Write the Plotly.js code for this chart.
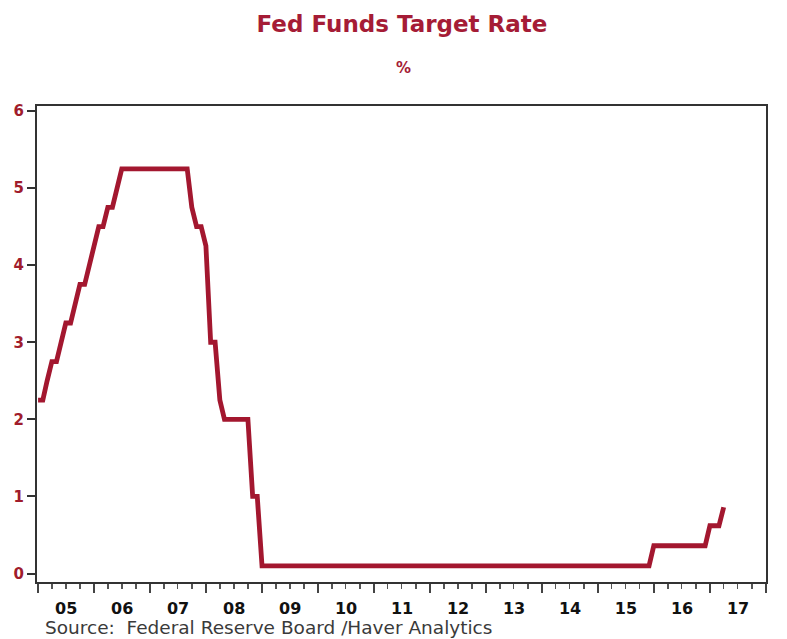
<!DOCTYPE html>
<html>
<head>
<meta charset="utf-8">
<script src="https://cdn.plot.ly/plotly-3.0.1.min.js"></script>
<style>html,body{margin:0;padding:0;background:#fff;}#chart{width:787px;height:639px;}</style>
</head>
<body>
<div id="chart"></div>
<script>
// Month-end dates where the target rate changes (flat stretches need only endpoints)
const dates = [
  '2004-12-31','2005-01-31','2005-02-28','2005-03-31','2005-04-30','2005-05-31',
  '2005-06-30','2005-07-31','2005-08-31','2005-09-30','2005-10-31','2005-11-30',
  '2005-12-31','2006-01-31','2006-02-28','2006-03-31','2006-04-30','2006-05-31',
  '2006-06-30','2007-08-31','2007-09-30','2007-10-31','2007-11-30','2007-12-31',
  '2008-01-31','2008-02-29','2008-03-31','2008-04-30','2008-09-30','2008-10-31',
  '2008-11-30','2008-12-31','2015-11-30','2015-12-31','2016-11-30','2016-12-31',
  '2017-01-31','2017-02-28','2017-03-31'
];
const rates = [
  2.25,2.25,2.50,2.75,2.75,3.00,
  3.25,3.25,3.50,3.75,3.75,4.00,
  4.25,4.50,4.50,4.75,4.75,5.00,
  5.25,5.25,4.75,4.50,4.50,4.25,
  3.00,3.00,2.25,2.00,2.00,1.00,
  1.00,0.10,0.10,0.36,0.36,0.62,
  0.62,0.62,0.86
];
const chartTitle = 'Fed Funds Target Rate';
const unitLabel = '%';
const sourceText = 'Source:  Federal Reserve Board /Haver Analytics';

const red = '#A3172F';
const labelRed = '#A01C2C';
const axisCol = '#333333';
const font = 'DejaVu Sans, Liberation Sans, Arial, sans-serif';

const yRange = [-0.11, 6.065];
const yTickFont = {family: font, size: 15, color: labelRed, weight: 'bold'};

const data = [{
  x: dates, y: rates, type: 'scatter', mode: 'lines',
  line: {color: red, width: 4.8, shape: 'linear'},
  hoverinfo: 'skip'
}];

const layout = {
  width: 787, height: 639,
  margin: {l: 37, r: 21, t: 106, b: 57},
  paper_bgcolor: '#ffffff', plot_bgcolor: '#ffffff',
  showlegend: false,
  title: {
    text: chartTitle, x: 402/787, xanchor: 'center', xref: 'container',
    y: 1 - 24/639, yanchor: 'middle', yref: 'container',
    font: {family: font, size: 23, color: '#A51C36', weight: 'bold'}
  },
  xaxis: {
    type: 'date', range: ['2004-12-24', '2018-01-01'],
    tick0: '2005-01-01', dtick: 'M12', tickformat: '%y', ticklabelmode: 'period',
    ticks: 'outside', ticklen: 9, tickwidth: 1.5, tickcolor: '#444',
    minor: {dtick: 'M3', ticks: 'outside', ticklen: 5, tickwidth: 1.2, tickcolor: '#555', showgrid: false},
    showline: true, linecolor: axisCol, linewidth: 2, mirror: true,
    showgrid: false, zeroline: false,
    ticklabelstandoff: 2,
    tickfont: {family: font, size: 16, color: '#111111', weight: 'bold'}
  },
  yaxis: {
    range: yRange, tick0: 0, dtick: 1,
    ticks: 'outside', ticklen: 8, tickwidth: 2, tickcolor: axisCol,
    showline: true, linecolor: axisCol, linewidth: 2, mirror: true,
    showgrid: false, zeroline: false,
    ticklabelstandoff: 0,
    tickfont: yTickFont
  },
  yaxis2: {
    overlaying: 'y', side: 'right', range: yRange, tick0: 0, dtick: 1,
    ticks: 'outside', ticklen: 8, tickwidth: 2, tickcolor: axisCol,
    showline: false, showgrid: false, zeroline: false,
    ticklabelstandoff: 0,
    tickfont: yTickFont
  },
  annotations: [
    {text: unitLabel, xref: 'paper', yref: 'paper', x: (403-37)/729, y: 1 + (106-68)/476,
     xanchor: 'center', yanchor: 'middle', showarrow: false,
     font: {family: font, size: 15, color: '#A51C36', weight: 'bold'}},
    {text: sourceText, xref: 'paper', yref: 'paper', x: (43-37)/729, y: -(627-582)/476,
     xanchor: 'left', yanchor: 'middle', showarrow: false,
     font: {family: font, size: 18.5, color: '#3a3a3a'}}
  ]
};

Plotly.newPlot('chart', data, layout, {displayModeBar: false, staticPlot: true});
</script>
</body>
</html>
